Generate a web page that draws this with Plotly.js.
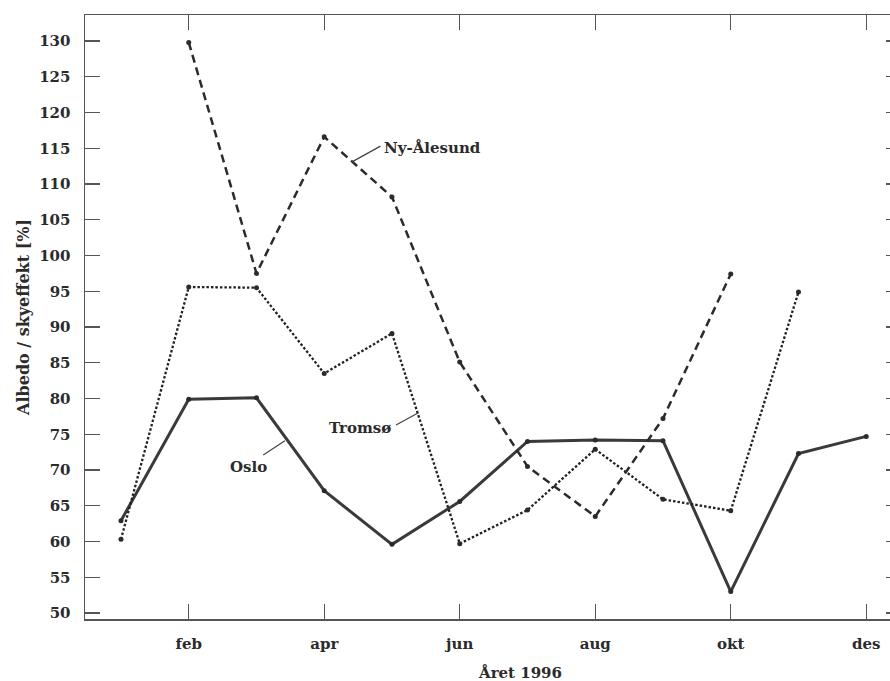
<!DOCTYPE html>
<html>
<head>
<meta charset="utf-8">
<script src="https://cdn.plot.ly/plotly-3.0.1.min.js"></script>
<style>
html,body{margin:0;padding:0;background:#fff;overflow:hidden;width:890px;height:681px;}
#chart{width:902px;height:681px;}
</style>
</head>
<body>
<div id="chart"></div>
<script>
// Months (1 = jan ... 12 = des)
const months = [1,2,3,4,5,6,7,8,9,10,11,12];
const tickVals = [2,4,6,8,10,12];
const tickLabels = ["feb","apr","jun","aug","okt","des"];

const oslo      = [62.9, 79.9, 80.1, 67.1, 59.6, 65.6, 74.0, 74.2, 74.1, 53.0, 72.3, 74.7];
const tromso    = [60.3, 95.6, 95.5, 83.5, 89.1, 59.7, 64.4, 72.9, 65.9, 64.3, 94.9, null];
const nyAlesund = [null, 129.8, 97.5, 116.6, 108.2, 85.1, 70.5, 63.5, 77.2, 97.4, null, null];

const font = "DejaVu Serif, serif";
const ink = "#2b2b2b";
const labelFont = {family: font, size: 15, color: ink, weight: "bold"};

const traces = [
  {x: months, y: oslo, mode: "lines+markers", name: "Oslo",
   line: {color: "#3a3a3a", width: 3}, marker: {size: 5, color: ink}},
  {x: months, y: tromso, mode: "lines+markers", name: "Tromsø",
   line: {color: "#222", width: 2.3, dash: "2.5px,2px"}, marker: {size: 5, color: ink}},
  {x: months, y: nyAlesund, mode: "lines+markers", name: "Ny-Ålesund",
   line: {color: ink, width: 2.5, dash: "8px,5px"}, marker: {size: 5, color: ink}}
];

const axisCommon = {
  showline: true, mirror: "ticks", linecolor: "#555", linewidth: 1.5,
  ticks: "inside", ticklen: 15, tickwidth: 1.2, tickcolor: "#555",
  showgrid: false, zeroline: false,
  tickfont: labelFont
};

const layout = {
  width: 902, height: 681,
  margin: {l: 85, r: 1, t: 15, b: 62},
  paper_bgcolor: "#fff", plot_bgcolor: "#fff",
  showlegend: false,
  xaxis: Object.assign({}, axisCommon, {
    range: [0.469, 12.513], tickmode: "array", tickvals: tickVals, ticktext: tickLabels,
    ticklabelstandoff: 10
  }),
  yaxis: Object.assign({}, axisCommon, {
    range: [49.16, 133.64], tickmode: "linear", tick0: 50, dtick: 5,
    ticklabelstandoff: 10,
    title: {text: "Albedo / skyeffekt [%]", font: {family: font, size: 16, color: ink, weight: "bold"}, standoff: 5}
  }),
  annotations: [
    {x: 4.855, y: 115.0, xref: "x", yref: "y", text: "Ny-Ålesund", showarrow: false,
     xanchor: "left", yanchor: "middle", font: labelFont},
    {x: 5.02, y: 75.9, xref: "x", yref: "y", text: "Tromsø", showarrow: false,
     xanchor: "right", yanchor: "middle", font: labelFont},
    {x: 2.876, y: 70.4, xref: "x", yref: "y", text: "Oslo", showarrow: false,
     xanchor: "center", yanchor: "middle", font: labelFont},
    {x: 6.89, y: 0, xref: "x", yref: "paper", yshift: -54, text: "Året 1996", showarrow: false,
     xanchor: "center", yanchor: "middle", font: labelFont}
  ],
  shapes: [
    {type: "line", xref: "x", yref: "y", x0: 4.41, y0: 113.1, x1: 4.83, y1: 115.3, line: {color: "#444", width: 1.2}},
    {type: "line", xref: "x", yref: "y", x0: 5.06, y0: 76.3, x1: 5.39, y1: 78.0, line: {color: "#444", width: 1.2}},
    {type: "line", xref: "x", yref: "y", x0: 3.10, y0: 72.1, x1: 3.42, y1: 74.1, line: {color: "#444", width: 1.2}}
  ]
};

Plotly.newPlot("chart", traces, layout, {displayModeBar: false, staticPlot: true});
</script>
</body>
</html>
